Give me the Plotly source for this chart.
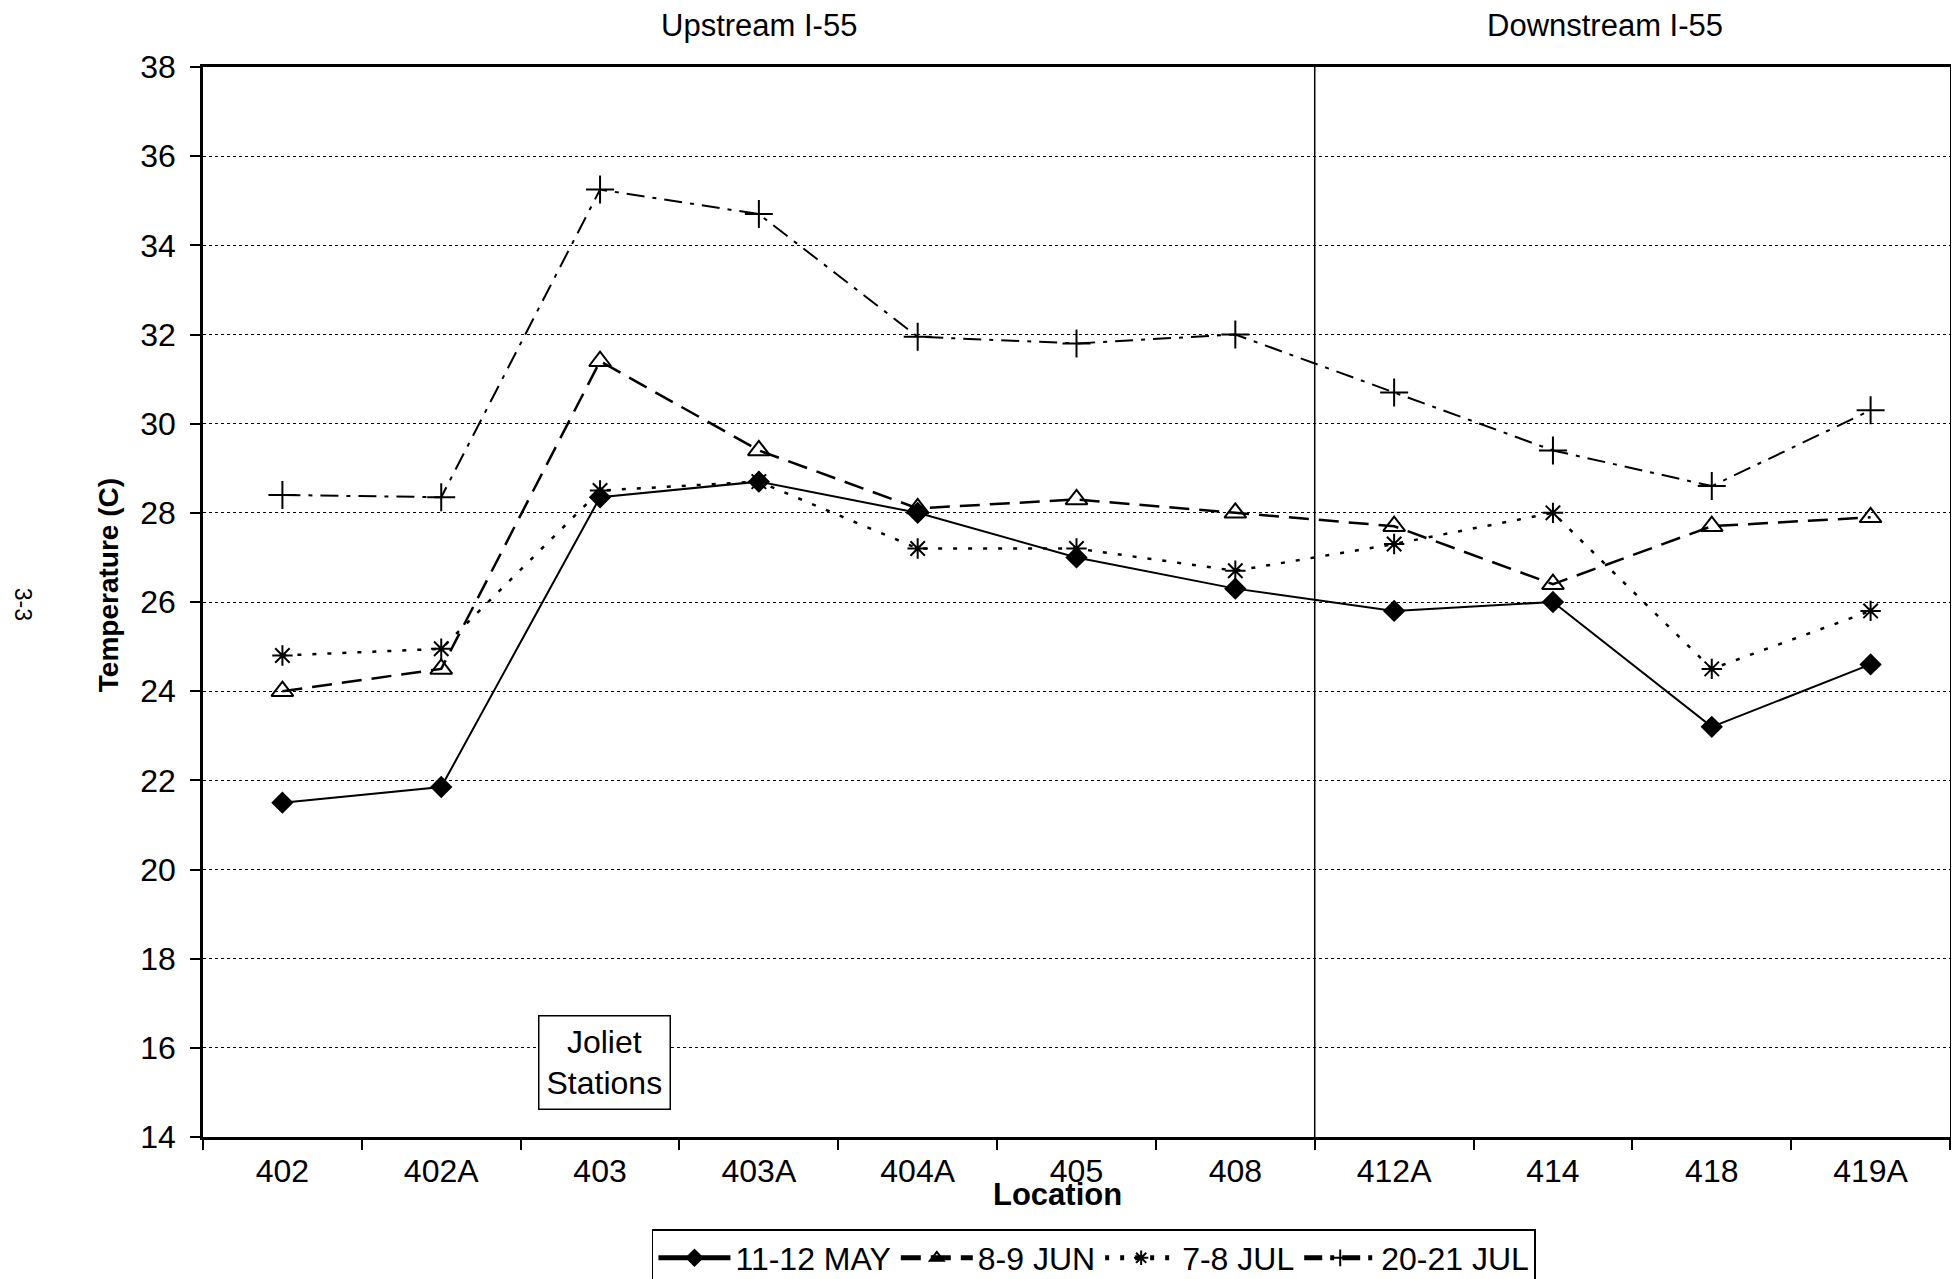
import plotly.graph_objects as go

locations = ["402", "402A", "403", "403A", "404A", "405", "408", "412A", "414", "418", "419A"]
may_11_12 = [21.5, 21.85, 28.35, 28.7, 28.0, 27.0, 26.3, 25.8, 26.0, 23.2, 24.6]
jun_8_9 = [24.0, 24.5, 31.4, 29.4, 28.1, 28.3, 28.0, 27.7, 26.4, 27.7, 27.9]
jul_7_8 = [24.8, 24.95, 28.5, 28.7, 27.2, 27.2, 26.7, 27.3, 28.0, 24.5, 25.8]
jul_20_21 = [28.4, 28.35, 35.25, 34.7, 31.95, 31.8, 32.0, 30.7, 29.4, 28.6, 30.3]

series_names = ["11-12 MAY", "8-9 JUN", "7-8 JUL", "20-21 JUL"]
y_ticks = [14, 16, 18, 20, 22, 24, 26, 28, 30, 32, 34, 36, 38]

FONT = "Liberation Sans, Arial, sans-serif"
FS = 32

# page body has an 8px default margin, so the figure is shrunk to fit
W, H = 1951, 1271
L, R, T, B = 195, 6, 59, 142
PB = H - B  # plot bottom in figure px
PH = H - T - B
PW = W - L - R

fig = go.Figure()
styles = [
    dict(dash="solid", width=2, symbol="diamond", size=15),
    dict(dash="20px,10px", width=2.5, symbol="triangle-up-open", size=19),
    dict(dash="4px,11px", width=2.5, symbol="asterisk-open", size=17),
    dict(dash="18px,8px,4px,8px", width=2, symbol="cross-thin-open", size=20),
]
for name, vals, st in zip(series_names, [may_11_12, jun_8_9, jul_7_8, jul_20_21], styles):
    fig.add_trace(go.Scatter(
        x=locations, y=vals, name=name, mode="lines+markers",
        line=dict(color="black", width=st["width"], dash=st["dash"]),
        marker=dict(symbol=st["symbol"], size=st["size"], color="black",
                    line=dict(color="black", width=2)),
    ))

fig.add_shape(type="line", xref="x", yref="y", x0=6.5, x1=6.5, y0=14, y1=38,
              line=dict(color="black", width=1.5))

fig.update_layout(
    width=W, height=H,
    margin=dict(l=L, r=R, t=T, b=B),
    paper_bgcolor="white", plot_bgcolor="white",
    font=dict(family=FONT, size=FS, color="black"),
    showlegend=True,
    legend=dict(orientation="h", x=0.51, xanchor="center",
                yref="container", y=1 - 1221 / H, yanchor="top",
                bordercolor="black", borderwidth=1.5, itemwidth=72,
                font=dict(family=FONT, size=FS, color="black"),
                tracegroupgap=0, itemsizing="constant"),
    xaxis=dict(type="category", categoryorder="array", categoryarray=locations,
               range=[-0.5, 10.5], showgrid=False, ticks="outside", tickson="boundaries",
               ticklen=10, tickcolor="black", tickwidth=1.5, ticklabelstandoff=4,
               showline=True, linecolor="black", linewidth=2.5, mirror=True,
               tickfont=dict(family=FONT, size=FS, color="black")),
    yaxis=dict(range=[14, 38], tickvals=y_ticks, ticktext=[str(v) for v in y_ticks],
               showgrid=True, gridcolor="black", gridwidth=1, griddash="dot",
               ticks="outside", ticklen=10, tickcolor="black", tickwidth=1.5,
               ticklabelstandoff=8,
               showline=True, linecolor="black", linewidth=2.5, mirror=True,
               zeroline=False, tickfont=dict(family=FONT, size=FS, color="black")),
    annotations=[
        dict(text="Upstream I-55", xref="x", yref="paper", x=3.0, y=(PB - 18) / PH, showarrow=False,
             font=dict(family=FONT, size=31), xanchor="center", yanchor="middle"),
        dict(text="Downstream I-55", xref="x", yref="paper", x=8.33, y=(PB - 18) / PH, showarrow=False,
             font=dict(family=FONT, size=31), xanchor="center", yanchor="middle"),
        dict(text="<b>Temperature (C)</b>", xref="paper", yref="paper",
             x=(100 - L) / PW, y=(PB - 577) / PH,
             textangle=-90, showarrow=False, font=dict(family=FONT, size=28),
             xanchor="center", yanchor="middle"),
        dict(text="<b>Location</b>", xref="paper", yref="paper", x=0.489, y=-0.054,
             showarrow=False, font=dict(family=FONT, size=31),
             xanchor="center", yanchor="middle"),
        dict(text="Joliet<br>Stations", xref="x", yref="y", x=2.03, y=15.68, showarrow=False,
             font=dict(family=FONT, size=FS), bgcolor="white", bordercolor="black",
             borderwidth=1.5, borderpad=7, xanchor="center", yanchor="middle"),
        dict(text="3-3", xref="paper", yref="paper", x=(15 - L) / PW, y=(PB - 596) / PH,
             textangle=90, showarrow=False, font=dict(family=FONT, size=23),
             xanchor="center", yanchor="middle"),
    ],
)

fig.write_html("out.html")
